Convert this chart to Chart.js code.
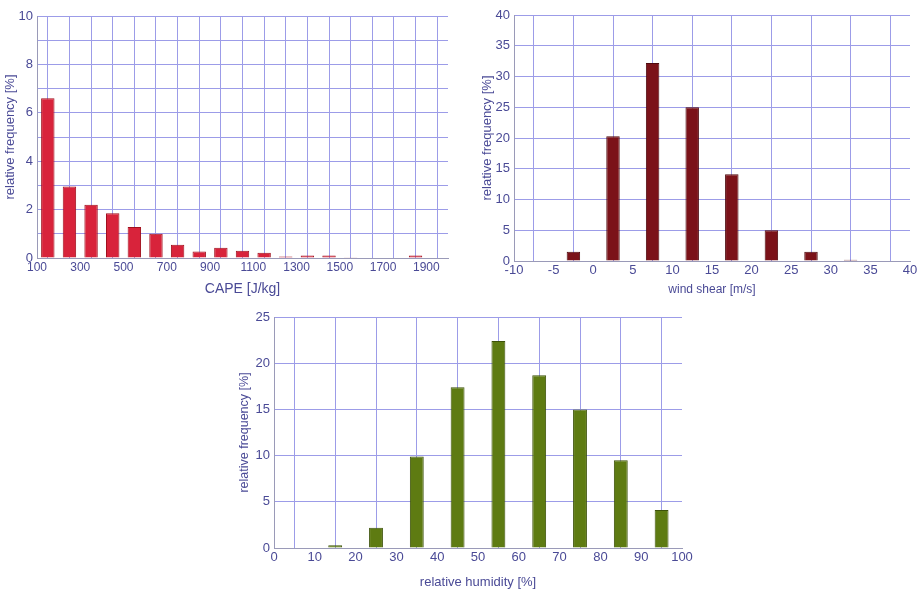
<!DOCTYPE html>
<html>
<head>
<meta charset="utf-8">
<script src="https://cdn.jsdelivr.net/npm/chart.js@4.4.0/dist/chart.umd.min.js"></script>
<style>
  body { margin: 0; background: #fff; width: 921px; height: 591px; position: relative; overflow: hidden; }
  .box { position: absolute; }
</style>
</head>
<body>
<div class="box" style="left:0px;top:0px;width:460px;height:300px"><canvas id="capeChart"></canvas></div>
<div class="box" style="left:477px;top:0px;width:444px;height:300px"><canvas id="shearChart"></canvas></div>
<div class="box" style="left:234px;top:300px;width:470px;height:291px"><canvas id="rhChart"></canvas></div>
<script>
// CAPE histogram (bin centres, J/kg)
var capeBins = [150, 250, 350, 450, 550, 650, 750, 850, 950, 1050, 1150, 1250, 1350, 1450, 1550, 1650, 1750, 1850, 1950];
var capeFreq = [6.6, 2.95, 2.2, 1.85, 1.28, 1.0, 0.55, 0.27, 0.42, 0.3, 0.22, 0.06, 0.1, 0.1, 0.03, 0, 0, 0.1, 0];

// wind shear histogram (bin centres, m/s)
var shearBins = [-2.5, 2.5, 7.5, 12.5, 17.5, 22.5, 27.5, 32.5];
var shearFreq = [1.5, 20.3, 32.2, 25.0, 14.1, 5.0, 1.5, 0.2];

// relative humidity histogram (bin centres, %)
var rhBins = [15, 25, 35, 45, 55, 65, 75, 85, 95];
var rhFreq = [0.3, 2.2, 9.9, 17.4, 22.4, 18.7, 15.0, 9.5, 4.1];

var gridCol = '#9c9ce8';
var txtCol = '#4a4a96';
var fontFam = 'Arial, "Liberation Sans", sans-serif';

function points(xs, ys) {
  return xs.map(function(x, i) { return {x: x, y: ys[i]}; });
}

function makeHist(id, o) {
  return new Chart(document.getElementById(id), {
    type: 'bar',
    data: {
      datasets: [{
        data: points(o.xs, o.ys),
        backgroundColor: o.color,
        borderColor: o.edge,
        borderWidth: 1,
        barPercentage: o.barPct,
        categoryPercentage: 1.0
      }]
    },
    options: {
      responsive: true,
      maintainAspectRatio: false,
      animation: false,
      layout: { padding: o.padding },
      plugins: { legend: { display: false }, tooltip: { enabled: false } },
      scales: {
        x: {
          type: 'linear',
          min: o.xMin, max: o.xMax,
          offset: false,
          afterFit: function(s) { s.height = o.xAxisH; },
          border: { color: '#9a9ab8', width: 1 },
          grid: { color: gridCol, lineWidth: 1, drawTicks: false },
          ticks: {
            stepSize: o.xStep,
            autoSkip: false,
            maxRotation: 0,
            padding: 2,
            color: txtCol,
            font: { family: fontFam, size: o.xTickSize },
            callback: o.xLabel
          },
          title: {
            display: true,
            text: o.xTitle,
            color: txtCol,
            font: { family: fontFam, size: o.xTitleSize },
            padding: { top: 0, bottom: o.xTitlePad }
          }
        },
        y: {
          min: 0, max: o.yMax,
          afterFit: function(s) { s.width = o.yAxisW; },
          border: { color: '#9a9ab8', width: 1 },
          grid: { color: gridCol, lineWidth: 1, drawTicks: false },
          ticks: {
            stepSize: o.yStep,
            autoSkip: false,
            padding: 4,
            color: txtCol,
            font: { family: fontFam, size: o.yTickSize },
            callback: o.yLabel
          },
          title: {
            display: true,
            text: 'relative frequency [%]',
            color: txtCol,
            font: { family: fontFam, size: o.yTitleSize },
            padding: { top: o.yTitlePad, bottom: 0 }
          }
        }
      }
    }
  });
}

makeHist('capeChart', {
  xs: capeBins, ys: capeFreq,
  color: '#d8233b', edge: '#a0101e', barPct: 0.62,
  padding: { top: 16, right: 12, left: 0, bottom: 0 },
  xMin: 100, xMax: 2000, xStep: 100, xAxisH: 42,
  xLabel: function(v) { return (v - 100) % 200 === 0 && v < 2000 ? String(v) : ''; },
  xTitle: 'CAPE [J/kg]', xTitleSize: 14, xTitlePad: 2, xTickSize: 12,
  yMax: 10, yStep: 1, yAxisW: 37, yTickSize: 13, yTitleSize: 13, yTitlePad: 3,
  yLabel: function(v) { return v % 2 === 0 ? String(v) : ''; }
});

makeHist('shearChart', {
  xs: shearBins, ys: shearFreq,
  color: '#7b1219', edge: '#4e0a0e', barPct: 0.34,
  padding: { top: 15, right: 11, left: 0, bottom: 0 },
  xMin: -10, xMax: 40, xStep: 5, xAxisH: 39,
  xLabel: function(v) { return String(v); },
  xTitle: 'wind shear [m/s]', xTitleSize: 12, xTitlePad: 3, xTickSize: 13,
  yMax: 40, yStep: 5, yAxisW: 37, yTickSize: 13, yTitleSize: 13, yTitlePad: 3,
  yLabel: function(v) { return String(v); }
});

makeHist('rhChart', {
  xs: rhBins, ys: rhFreq,
  color: '#5e7b12', edge: '#3d520a', barPct: 0.34,
  padding: { top: 17, right: 22, left: 0, bottom: 0 },
  xMin: 0, xMax: 100, xStep: 10, xAxisH: 43,
  xLabel: function(v) { return String(v); },
  xTitle: 'relative humidity [%]', xTitleSize: 13, xTitlePad: 1, xTickSize: 13,
  yMax: 25, yStep: 5, yAxisW: 40, yTickSize: 13, yTitleSize: 12.5, yTitlePad: 3,
  yLabel: function(v) { return String(v); }
});
</script>
</body>
</html>
